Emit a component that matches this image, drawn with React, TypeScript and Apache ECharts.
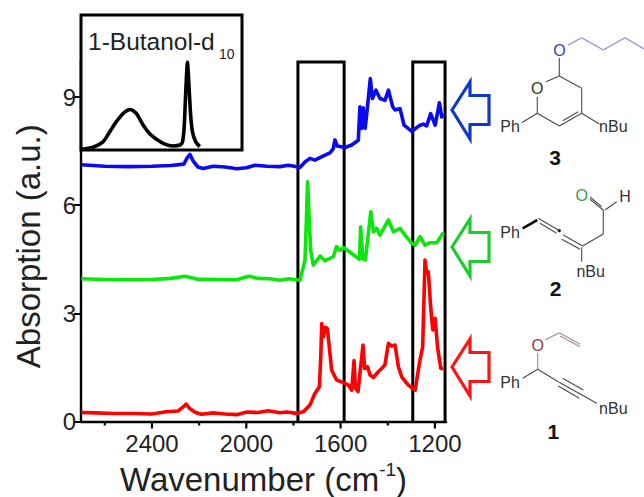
import React, { useEffect, useRef } from "react";
import * as echarts from "echarts";

const xMajorTicks = [2400, 2000, 1600, 1200];
const xMinorTicks = [2600, 2200, 1800, 1400];
const yTicks = [0, 3, 6, 9];

const redSeries = [[2700,0.25],[2640,0.24],[2560,0.22],[2480,0.22],[2400,0.21],[2340,0.27],[2290,0.29],[2265,0.42],[2255,0.48],[2240,0.36],[2215,0.25],[2190,0.2],[2140,0.24],[2090,0.21],[2040,0.19],[2000,0.26],[1950,0.25],[1907,0.3],[1857,0.245],[1829,0.263],[1786,0.226],[1758,0.27],[1730,0.457],[1709,0.78],[1690,0.965],[1684,1.8],[1680,2.72],[1673,2.35],[1665,2.61],[1656,2.58],[1648,2.07],[1638,1.43],[1617,1.15],[1588,1.08],[1567,1.01],[1553,0.87],[1543,1.69],[1537,0.92],[1526,0.83],[1518,1.33],[1505,2.12],[1498,1.47],[1486,1.52],[1475,1.29],[1461,1.22],[1440,1.38],[1426,1.47],[1412,1.57],[1397,2.17],[1383,2.09],[1369,2.12],[1355,1.52],[1341,1.24],[1313,1.01],[1284,0.87],[1266,1.61],[1252,2.07],[1242,4.48],[1235,4.11],[1228,4.15],[1218,3.18],[1209,2.54],[1199,2.86],[1189,2.07],[1175,1.47],[1164,1.47]];

const greenSeries = [[2700,3.96],[2600,3.94],[2500,3.93],[2400,3.94],[2320,3.97],[2260,4.03],[2210,3.95],[2130,3.94],[2040,3.93],[1990,4.03],[1950,3.97],[1900,3.96],[1857,3.92],[1820,3.96],[1772,3.92],[1751,4.48],[1745,5.6],[1740,6.65],[1733,5.6],[1727,4.75],[1716,4.34],[1687,4.59],[1666,4.46],[1631,4.57],[1617,4.85],[1602,4.75],[1588,4.83],[1553,4.66],[1520,4.5],[1515,5.4],[1506,4.52],[1495,4.48],[1472,5.82],[1461,5.26],[1447,5.36],[1433,5.17],[1397,5.59],[1376,5.26],[1348,5.36],[1327,5.17],[1298,4.94],[1284,4.89],[1263,5.13],[1242,4.89],[1221,4.96],[1192,4.96],[1164,5.24]];

const blueSeries = [[2700,7.12],[2600,7.08],[2500,7.07],[2400,7.08],[2320,7.1],[2265,7.14],[2250,7.32],[2239,7.41],[2225,7.22],[2205,7.06],[2183,7.02],[2141,7.08],[2090,7.06],[2040,7.01],[2000,7.04],[1963,7.11],[1912,7.08],[1857,7.07],[1822,7.11],[1772,7.05],[1751,7.2],[1730,7.3],[1709,7.25],[1673,7.37],[1645,7.45],[1631,7.57],[1624,7.81],[1614,7.64],[1581,7.6],[1553,7.67],[1525,7.8],[1518,8.73],[1511,8.13],[1504,8.7],[1496,8.13],[1486,8.73],[1474,9.51],[1465,8.96],[1450,9.19],[1433,8.96],[1412,8.91],[1397,9.19],[1379,8.73],[1369,8.64],[1348,8.68],[1331,8.22],[1298,8.05],[1263,8.22],[1249,8.25],[1235,8.2],[1218,8.54],[1199,8.22],[1181,8.84],[1171,8.45],[1164,8.54]];

const insetSeries = [[2700,0.005],[2649,0.02],[2607,0.06],[2578,0.136],[2550,0.21],[2522,0.27],[2491,0.3],[2465,0.27],[2437,0.185],[2409,0.12],[2380,0.08],[2345,0.044],[2310,0.03],[2281,0.037],[2270,0.06],[2263,0.17],[2256,0.44],[2249,0.65],[2243,0.49],[2236,0.27],[2228,0.136],[2214,0.06],[2197,0.025]];

const regionA = [[1781,0],[1781,9.97],[1585,9.97],[1585,0]];
const regionB = [[1294,0],[1294,9.97],[1157,9.97],[1157,0]];

const FONT = "Liberation Sans";
const GREY = "#4a4a4a";

const seg = (x1: number, y1: number, x2: number, y2: number, stroke = GREY, lineWidth = 1.1) => ({
  type: "line", silent: true, shape: { x1, y1, x2, y2 }, style: { stroke, lineWidth },
});
const label = (text: string, x: number, y: number, fill = "#333", size = 16, weight = "normal") => ({
  type: "text", silent: true, x, y,
  style: { text, fill, font: `${weight} ${size}px "${FONT}"`, align: "center", verticalAlign: "middle" },
});
const arrow = (tipY: number, stroke: string) => ({
  type: "polygon", silent: true,
  shape: { points: [[452, tipY], [470, tipY - 28], [470, tipY - 14.5], [489, tipY - 14.5], [489, tipY + 14.5], [470, tipY + 14.5], [470, tipY + 29]] },
  style: { fill: "none", stroke, lineWidth: 3.2, lineJoin: "miter" },
});

const BLUE_CHAIN = "#8a8ad0";
const BROWN = "#a88";

const graphics: any[] = [
  { type: "text", silent: true, z: 20, x: 88, y: 41, style: { text: "1-Butanol-d", fill: "#222", font: `24.5px "${FONT}"`, align: "left", verticalAlign: "middle" } },
  { type: "text", silent: true, z: 20, x: 219, y: 54, style: { text: "10", fill: "#222", font: `14px "${FONT}"`, align: "left", verticalAlign: "middle" } },
  arrow(110, "#1038c8"), arrow(247, "#1ccc2c"), arrow(367, "#ff1414"),

  // compound 3
  label("O", 559.5, 50.5, "#3c3cc0"),
  seg(568, 45, 581.7, 37.7, BLUE_CHAIN), seg(581.7, 37.7, 603.3, 50, BLUE_CHAIN), seg(603.3, 50, 625, 37.7, BLUE_CHAIN), seg(625, 37.7, 644, 49, BLUE_CHAIN),
  seg(559.3, 58, 559.3, 76), seg(559.3, 76, 581.7, 88.3), seg(581.7, 88.3, 581.7, 113.3), seg(581.7, 113.3, 559.3, 126),
  seg(559.3, 126, 537.3, 113.3), seg(537.3, 113.3, 537.3, 97), seg(546, 81.7, 559.3, 76), seg(562.7, 120.7, 578.3, 111.7),
  seg(581.7, 113.3, 599.3, 124), seg(537.3, 113.3, 521.7, 122.7),
  label("O", 537.3, 88.3), label("Ph", 510, 126.7), label("nBu", 613.3, 126.7), label("3", 555, 157, "#111", 21, "bold"),

  // compound 2
  label("O", 581.7, 195, "#3f9f3f"), label("H", 625, 196), label("Ph", 510, 232.7), label("nBu", 590.7, 271.7), label("2", 555.7, 288, "#111", 21, "bold"),
  seg(522.7, 228.3, 537.3, 220, "#111", 2.6),
  seg(538.3, 218.3, 558.3, 230), seg(540, 223.3, 556.7, 233.3),
  { type: "circle", silent: true, shape: { cx: 559.3, cy: 230.7, r: 1.6 }, style: { fill: "#111" } },
  seg(563.3, 235, 582.7, 246), seg(561.7, 239.3, 580, 249.3), seg(582.7, 246, 603.3, 234), seg(603.3, 234, 603.3, 210),
  seg(603.3, 210, 590, 199.3), seg(601.7, 206.7, 590, 197), seg(605, 210, 616.7, 201.7), seg(581.7, 247.3, 581.7, 261.7),

  // compound 1
  label("O", 537.7, 345, "#8f3a48"), label("Ph", 510, 382.7), label("nBu", 613.3, 408.3), label("1", 553.3, 431, "#111", 21, "bold"),
  seg(545, 340, 559.3, 332.7, BROWN), seg(559.3, 332.7, 580, 344.3, BROWN), seg(560, 336, 580, 346.7, BROWN),
  seg(537.7, 352.7, 537.7, 369.3, BROWN), seg(537.7, 369.3, 522.7, 378.3), seg(537.7, 369.3, 558.3, 381.7),
  seg(558.3, 381.7, 596.7, 403.3), seg(562.7, 378.3, 583.3, 390), seg(558.3, 386, 579.3, 398.3),
];

const boxLine = { type: "line", showSymbol: false, symbol: "none", silent: true, clip: false, lineStyle: { color: "#000", width: 3, join: "miter" } };
const curve = (name: string, data: number[][], color: string) => ({
  name, type: "line", data, showSymbol: false, symbol: "none", silent: true, clip: false,
  lineStyle: { color, width: 3.6, join: "round" }, z: 3,
});

export default function App() {
  const ref = useRef<HTMLDivElement>(null);
  useEffect(() => {
    const chart = echarts.init(ref.current!, null, { renderer: "svg" });
    chart.setOption({
      animation: false,
      backgroundColor: "#fff",
      textStyle: { fontFamily: FONT },
      grid: [
        { left: 81, top: 61, width: 365, height: 360.5, outerBoundsMode: "none" },
        { left: 81, top: 15, width: 161, height: 135, show: true, borderColor: "#000", borderWidth: 3, backgroundColor: "#fff", z: 5, outerBoundsMode: "none" },
      ],
      xAxis: [
        {
          type: "value", min: 1153, max: 2701, inverse: true, position: "bottom", splitLine: { show: false },
          gridIndex: 0,
          name: "{a|Wavenumber (cm}{s|-1}{a|)}", nameLocation: "middle", nameGap: 37,
          nameTextStyle: {
            rich: {
              a: { fontFamily: FONT, fontSize: 33, color: "#222", height: 38, lineHeight: 38 },
              s: { fontFamily: FONT, fontSize: 19, color: "#222", padding: [0, 0, 20, 0] },
            },
          },
          axisLine: { show: true, onZero: false, lineStyle: { color: "#000", width: 2.4 } },
          axisTick: { show: false },
          axisLabel: { customValues: xMajorTicks, formatter: (v: number) => String(v), fontFamily: FONT, fontSize: 24, color: "#222", margin: 10 },
        },
        { type: "value", gridIndex: 1, min: 2018, max: 2700, inverse: true, show: false, splitLine: { show: false } },
      ],
      yAxis: [
        {
          type: "value", gridIndex: 0, min: 0, max: 10, splitLine: { show: false },
          name: "Absorption (a.u.)", nameLocation: "middle", nameGap: 36,
          nameTextStyle: { fontFamily: FONT, fontSize: 33, color: "#222", padding: [0, 10, 0, 0] },
          axisLine: { show: true, onZero: false, lineStyle: { color: "#000", width: 2.4 } },
          axisTick: { show: true, length: 7, customValues: yTicks, lineStyle: { color: "#000", width: 2 } },
          axisLabel: { customValues: yTicks, fontFamily: FONT, fontSize: 24, color: "#222", margin: 5 },
        },
        { type: "value", gridIndex: 1, min: 0, max: 1, show: false, splitLine: { show: false } },
      ],
      series: [
        { ...boxLine, name: "region A", data: regionA, xAxisIndex: 0, yAxisIndex: 0 },
        { ...boxLine, name: "region B", data: regionB, xAxisIndex: 0, yAxisIndex: 0 },
        { ...curve("1", redSeries, "#ff0000"), xAxisIndex: 0, yAxisIndex: 0 },
        { ...curve("2", greenSeries, "#0be60b"), xAxisIndex: 0, yAxisIndex: 0 },
        { ...curve("3", blueSeries, "#0a0af0"), xAxisIndex: 0, yAxisIndex: 0 },
        { ...curve("1-Butanol-d10", insetSeries, "#000"), smooth: 0.25, xAxisIndex: 1, yAxisIndex: 1, z: 6 },
      ],
    });
    const tickAt = (t: number, len: number) => {
      const [x, y] = chart.convertToPixel({ xAxisIndex: 0, yAxisIndex: 0 }, [t, 0]) as number[];
      return { ...seg(x, y, x, y + len, "#000", 2.2), z: 40 };
    };
    chart.setOption({
      graphic: [
        ...graphics,
        ...xMajorTicks.map((t) => tickAt(t, 7)),
        ...xMinorTicks.map((t) => tickAt(t, 4)),
      ],
    });
    return () => chart.dispose();
  }, []);
  return <div ref={ref} style={{ position: "absolute", left: 0, top: 0, width: 644, height: 497 }} />;
}
